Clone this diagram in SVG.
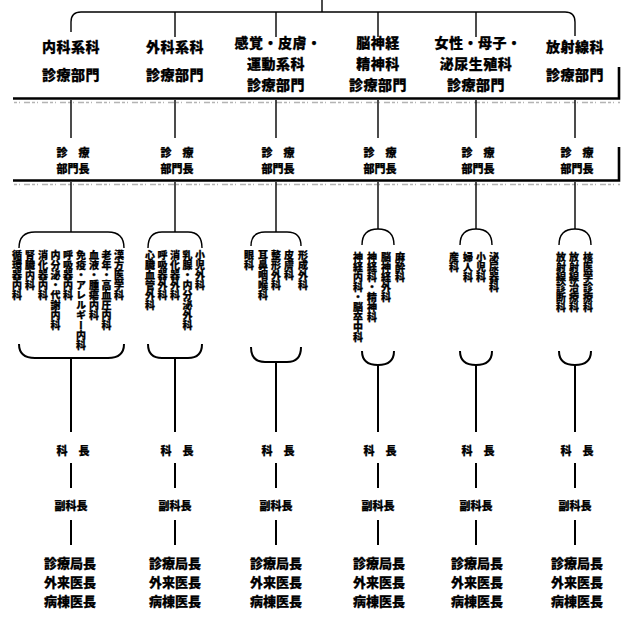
<svg xmlns="http://www.w3.org/2000/svg" width="624" height="619" viewBox="0 0 624 619">
<style>
text{font-family:"Noto Sans CJK JP","Noto Sans CJK SC",sans-serif;font-weight:900;fill:#000;stroke:#000;stroke-width:0.25}
.h{font-size:14px;text-anchor:middle;dominant-baseline:central;letter-spacing:0.5px}
.m{font-size:11px;text-anchor:middle;dominant-baseline:central}
.b{font-size:13px;text-anchor:middle;dominant-baseline:central}
.v{font-size:10px;writing-mode:vertical-rl;text-anchor:start}
.ln{fill:none;stroke:#000;stroke-width:1.4}
.st{fill:none;stroke:#000;stroke-width:2}
.bar{fill:none;stroke:#000;stroke-width:2.6}
.noise{fill:none;stroke:#777;stroke-width:1.6;stroke-dasharray:3 2 1 4 6 2;opacity:0.55}
</style>
<g id="connectors">
<path class="ln" d="M322,0 V12"/>
<path class="ln" d="M71,32 V22 Q71,12 81,12 H565 Q575,12 575,22 V36"/>
<path class="ln" d="M175,12 V37 M276,12 V37 M378,12 V37 M476,12 V37"/>
<path class="bar" d="M13,98.5 H619 V67"/>
<path class="noise" d="M14,102.5 H620"/>
<path class="ln" d="M71,100 V138 M175,100 V138 M276,100 V138 M378,100 V138 M476,100 V138 M575,100 V138"/>
<path class="bar" d="M13,180.5 H619 V147"/>
<path class="noise" d="M14,184.5 H620"/>
<path class="ln" d="M71,182 V232 M175,182 V232 M276,182 V232 M378,182 V229 M476,182 V229 M575,182 V229"/>
<path class="ln" d="M19,248 Q19,232 35,232 H108 Q124,232 124,248"/>
<path class="ln" d="M148,248 Q148,232 162,232 H188 Q202,232 202,248"/>
<path class="ln" d="M251,246 Q251,232 265,232 H287 Q301,232 301,246"/>
<path class="ln" d="M362,245 Q362,229 378,229 Q394,229 394,245"/>
<path class="ln" d="M460,245 Q460,229 476,229 Q492,229 492,245"/>
<path class="ln" d="M559,245 Q559,229 575,229 Q591,229 591,245"/>
<path class="st" d="M19,344 Q19,358 35,358 H108 Q124,358 124,344"/>
<path class="st" d="M148,344 Q148,358 162,358 H188 Q202,358 202,344"/>
<path class="st" d="M251,347 Q251,362 265,362 H287 Q301,362 301,347"/>
<path class="st" d="M362,351 Q362,365 378,365 Q394,365 394,351"/>
<path class="st" d="M460,351 Q460,365 476,365 Q492,365 492,351"/>
<path class="st" d="M559,351 Q559,365 575,365 Q591,365 591,351"/>
<path class="st" d="M71,358 V432 M175,358 V432 M276,362 V432 M378,365 V432 M476,365 V432 M575,365 V432"/>
<path class="st" d="M71,463 V488 M175,463 V488 M276,463 V488 M378,463 V488 M476,463 V488 M575,463 V488"/>
<path class="st" d="M71,520 V545 M175,520 V545 M276,520 V545 M378,520 V545 M476,520 V545 M575,520 V545"/>
</g>
<g id="header-naika">
<text class="h" x="71" y="46">内科系科</text><text class="h" x="71" y="74">診療部門</text>
</g>
<g id="header-geka">
<text class="h" x="175" y="46">外科系科</text><text class="h" x="175" y="74">診療部門</text>
</g>
<g id="header-kankaku">
<text class="h" x="278" y="42">感覚・皮膚・</text><text class="h" x="276" y="63">運動系科</text><text class="h" x="276" y="84">診療部門</text>
</g>
<g id="header-noshinkei">
<text class="h" x="378" y="42">脳神経</text><text class="h" x="378" y="63">精神科</text><text class="h" x="378" y="84">診療部門</text>
</g>
<g id="header-josei">
<text class="h" x="478" y="42">女性・母子・</text><text class="h" x="476" y="63">泌尿生殖科</text><text class="h" x="476" y="84">診療部門</text>
</g>
<g id="header-hoshasen">
<text class="h" x="575" y="46">放射線科</text><text class="h" x="575" y="74">診療部門</text>
</g>
<g id="bumoncho">
<text class="m" x="73" y="152">診　療</text><text class="m" x="73" y="168">部門長</text>
<text class="m" x="177" y="152">診　療</text><text class="m" x="177" y="168">部門長</text>
<text class="m" x="278" y="152">診　療</text><text class="m" x="278" y="168">部門長</text>
<text class="m" x="380" y="152">診　療</text><text class="m" x="380" y="168">部門長</text>
<text class="m" x="478" y="152">診　療</text><text class="m" x="478" y="168">部門長</text>
<text class="m" x="577" y="152">診　療</text><text class="m" x="577" y="168">部門長</text>
</g>
<g id="depts-naika">
<text class="v" x="119" y="250">漢方医学科</text>
<text class="v" x="106.5" y="250">老年・高血圧内科</text>
<text class="v" x="94" y="250">血液・腫瘍内科</text>
<text class="v" x="81" y="250">免疫・アレルギー内科</text>
<text class="v" x="68" y="250">呼吸器内科</text>
<text class="v" x="55.5" y="250">内分泌・代謝内科</text>
<text class="v" x="43" y="250">消化器内科</text>
<text class="v" x="30" y="250">腎臓内科</text>
<text class="v" x="17" y="250">循環器内科</text>
</g>
<g id="depts-geka">
<text class="v" x="200" y="250">小児外科</text>
<text class="v" x="187.5" y="250">乳腺・内分泌外科</text>
<text class="v" x="175" y="250">消化器外科</text>
<text class="v" x="162.5" y="250">呼吸器外科</text>
<text class="v" x="150" y="250">心臓血管外科</text>
</g>
<g id="depts-kankaku">
<text class="v" x="303" y="250">形成外科</text>
<text class="v" x="289" y="250">皮膚科</text>
<text class="v" x="276" y="250">整形外科</text>
<text class="v" x="263" y="250">耳鼻咽喉科</text>
<text class="v" x="249" y="250">眼科</text>
</g>
<g id="depts-noshinkei">
<text class="v" x="400" y="252">麻酔科</text>
<text class="v" x="386" y="252">脳神経外科</text>
<text class="v" x="372" y="252">神経科・精神科</text>
<text class="v" x="358" y="252">神経内科・脳卒中科</text>
</g>
<g id="depts-josei">
<text class="v" x="494" y="252">泌尿器科</text>
<text class="v" x="481" y="252">小児科</text>
<text class="v" x="468" y="252">婦人科</text>
<text class="v" x="454" y="252">産科</text>
</g>
<g id="depts-hoshasen">
<text class="v" x="588" y="252">核医学診療科</text>
<text class="v" x="574" y="252">放射線治療科</text>
<text class="v" x="561" y="252">放射線診断科</text>
</g>
<g id="staff-naika">
<text class="m" x="73" y="450">科　長</text><text class="m" x="71" y="505">副科長</text>
<text class="b" x="70" y="562">診療局長</text><text class="b" x="70" y="581">外来医長</text><text class="b" x="70" y="600">病棟医長</text>
</g>
<g id="staff-geka">
<text class="m" x="177" y="450">科　長</text><text class="m" x="175" y="505">副科長</text>
<text class="b" x="175" y="562">診療局長</text><text class="b" x="175" y="581">外来医長</text><text class="b" x="175" y="600">病棟医長</text>
</g>
<g id="staff-kankaku">
<text class="m" x="278" y="450">科　長</text><text class="m" x="276" y="505">副科長</text>
<text class="b" x="276" y="562">診療局長</text><text class="b" x="276" y="581">外来医長</text><text class="b" x="276" y="600">病棟医長</text>
</g>
<g id="staff-noshinkei">
<text class="m" x="380" y="450">科　長</text><text class="m" x="378" y="505">副科長</text>
<text class="b" x="379" y="562">診療局長</text><text class="b" x="379" y="581">外来医長</text><text class="b" x="379" y="600">病棟医長</text>
</g>
<g id="staff-josei">
<text class="m" x="478" y="450">科　長</text><text class="m" x="476" y="505">副科長</text>
<text class="b" x="477" y="562">診療局長</text><text class="b" x="477" y="581">外来医長</text><text class="b" x="477" y="600">病棟医長</text>
</g>
<g id="staff-hoshasen">
<text class="m" x="577" y="450">科　長</text><text class="m" x="575" y="505">副科長</text>
<text class="b" x="577" y="562">診療局長</text><text class="b" x="577" y="581">外来医長</text><text class="b" x="577" y="600">病棟医長</text>
</g>
</svg>
